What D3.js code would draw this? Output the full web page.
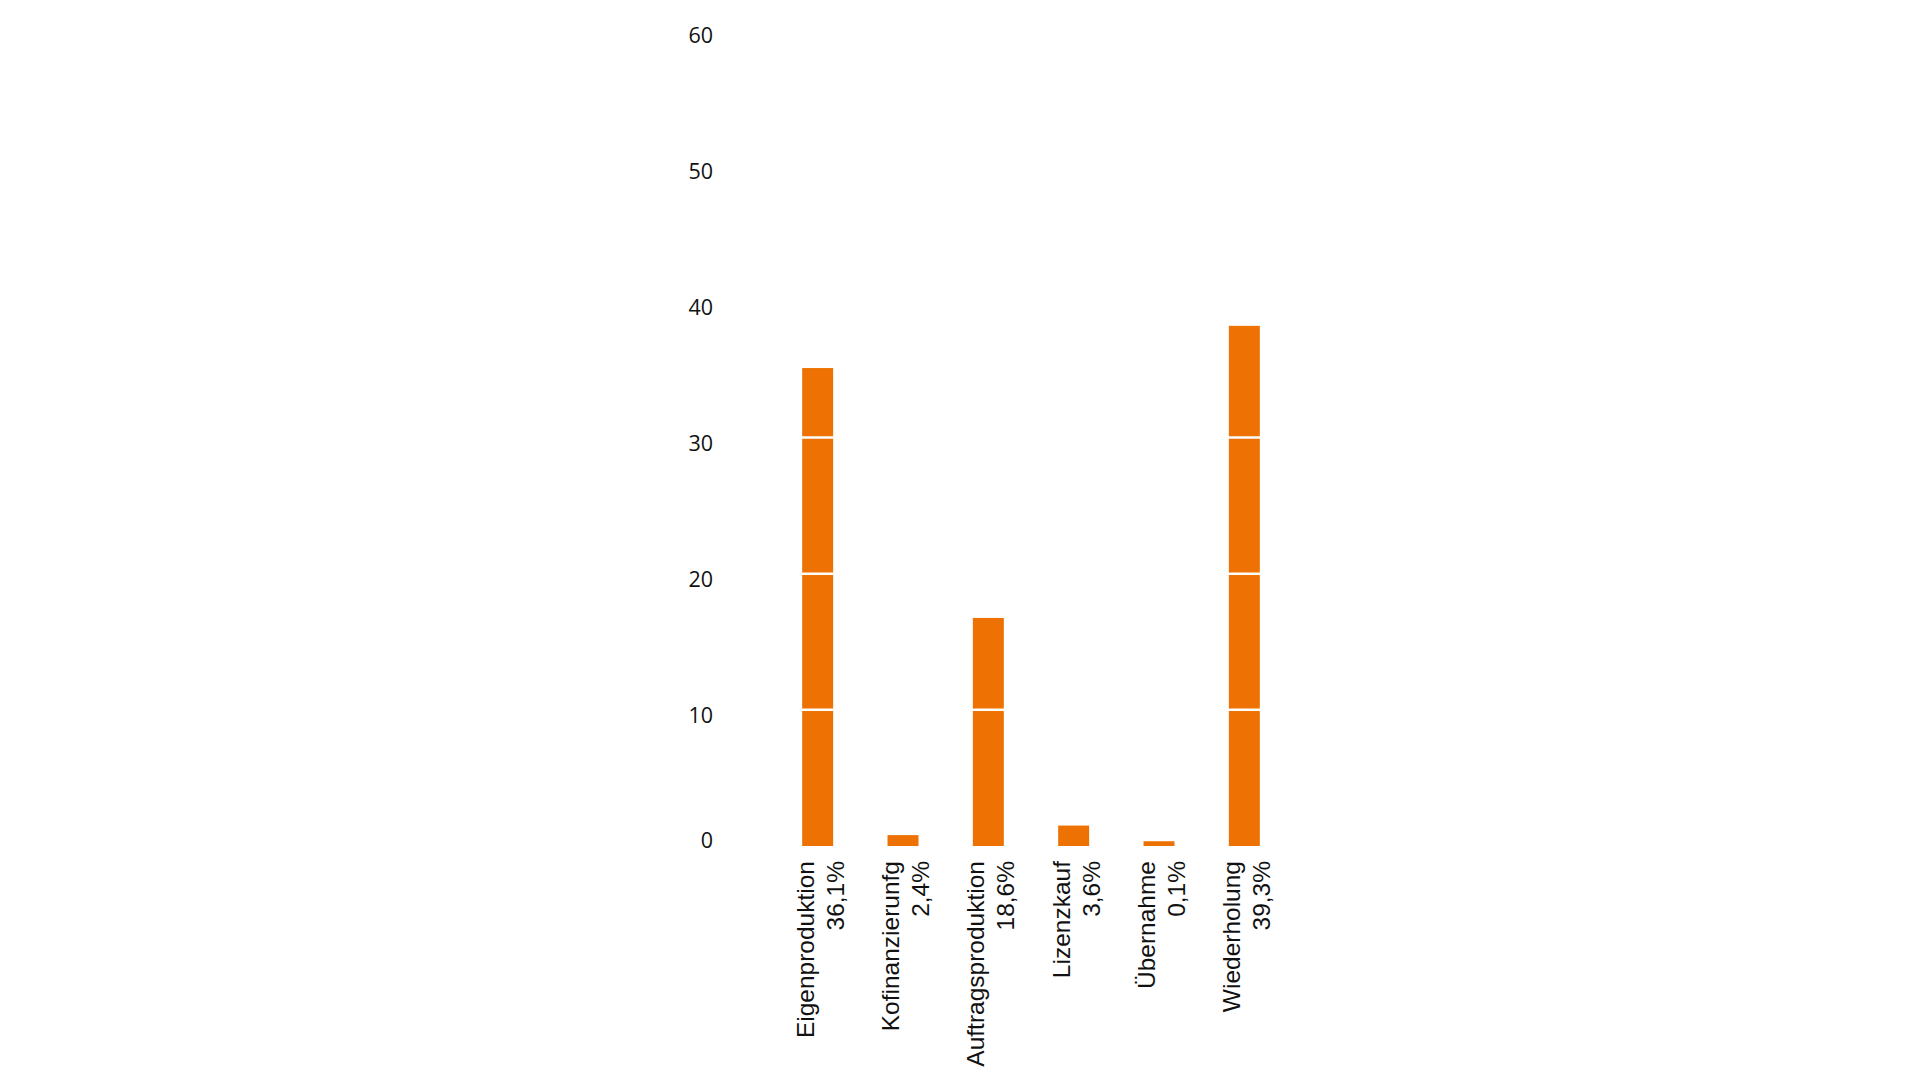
<!DOCTYPE html>
<html>
<head>
<meta charset="utf-8">
<script src="https://cdn.jsdelivr.net/npm/d3@7"></script>
<style>
  html, body { margin: 0; padding: 0; background: #ffffff; }
  svg { display: block; }
</style>
</head>
<body>
<svg id="svg"></svg>
<script>
// chart values
var categories = ["Eigenproduktion", "Kofinanzierunfg", "Auftragsproduktion", "Lizenzkauf", "Übernahme", "Wiederholung"];
var shares     = ["36,1%", "2,4%", "18,6%", "3,6%", "0,1%", "39,3%"];
var values     = [35.1, 0.8, 16.75, 1.5, 0.35, 38.2];
var ticks      = [0, 10, 20, 30, 40, 50, 60];

var outer_width  = 1920;
var outer_height = 1080;

// plot box (pixels)
var plot = {left: 775, right: 1287, top: 29, bottom: 846};

var svg = d3.select("#svg")
	.attr("width",  outer_width)
	.attr("height", outer_height);

var x = d3.scaleBand()
	.domain(categories)
	.range([plot.left, plot.right])
	.paddingInner(0.637)
	.paddingOuter(0.3185);

var y = d3.scaleLinear()
	.domain([0, 60])
	.range([plot.bottom, plot.top]);

// bars
svg.append("g")
	.selectAll("rect")
	.data(values)
	.enter()
	.append("rect")
	.attr("x", function(d, i) { return x(categories[i]); })
	.attr("y", function(d) { return y(d); })
	.attr("width", x.bandwidth())
	.attr("height", function(d) { return y(0) - y(d); })
	.attr("fill", "#ed7203");

// white grid lines, only visible where they cross the bars
svg.append("g")
	.selectAll("line")
	.data(ticks.filter(function(t) { return t > 0; }))
	.enter()
	.append("line")
	.attr("x1", plot.left)
	.attr("x2", plot.right)
	.attr("y1", function(t) { return y(t); })
	.attr("y2", function(t) { return y(t); })
	.attr("stroke", "#ffffff")
	.attr("stroke-width", 2.5);

// y tick labels (the zero sits a little above the base line)
svg.append("g")
	.selectAll("text")
	.data(ticks)
	.enter()
	.append("text")
	.attr("x", 713)
	.attr("y", function(t) { return y(t) + (t === 0 ? -7 : 5); })
	.attr("text-anchor", "end")
	.attr("dominant-baseline", "central")
	.style("font-family", "'Open Sans', sans-serif")
	.style("font-size", "21.5px")
	.style("fill", "#111111")
	.text(function(t) { return t; });

// category labels, rotated, two lines each
var labels = svg.append("g")
	.selectAll("g")
	.data(categories)
	.enter()
	.append("g")
	.attr("transform", function(c) {
		return "translate(" + (x(c) + x.bandwidth() / 2) + "," + 861 + ") rotate(-90)";
	});

labels.append("text")
	.attr("y", -4)
	.attr("text-anchor", "end")
	.style("font-family", "'Liberation Sans', Arial, sans-serif")
	.style("font-size", "24.5px")
	.style("fill", "#111111")
	.text(function(c) { return c; });

labels.append("text")
	.attr("y", 26)
	.attr("text-anchor", "end")
	.style("font-family", "'Liberation Sans', Arial, sans-serif")
	.style("font-size", "24.5px")
	.style("fill", "#111111")
	.text(function(c, i) { return shares[i]; });
</script>
</body>
</html>
